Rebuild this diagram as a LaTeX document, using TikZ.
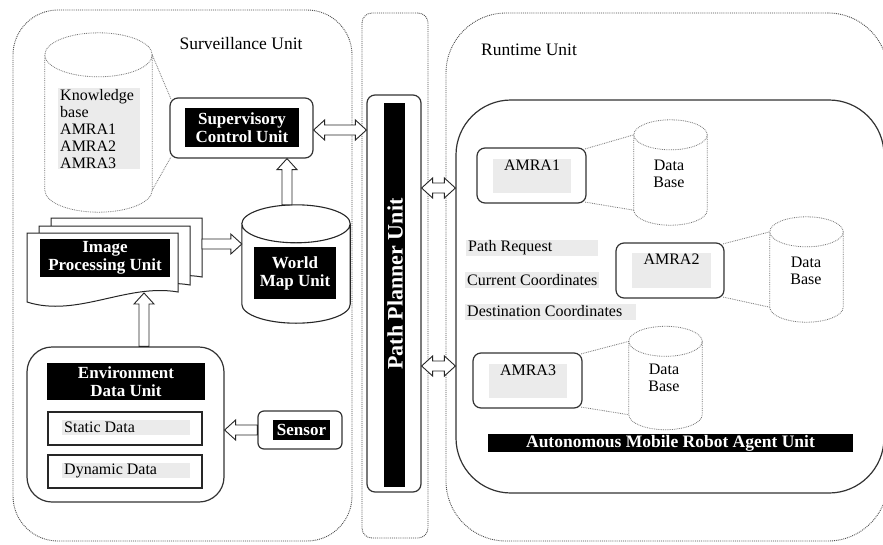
\documentclass[tikz,border=0pt]{standalone}
\usepackage{fontspec}
\setmainfont{Liberation Serif}
\usetikzlibrary{calc}
\newcommand\asw{5pt}
\newcommand\ahw{10pt}
\newcommand\ahl{11pt}
% cylinder drawn around a placeholder node: #1 node, #2 ellipse y-radius, #3 style
\newcommand\drawcyl[3]{%
  \path[#3] let \p1=(#1.north west), \p2=(#1.south east), \p3=(#1.center) in
    (\x1,{\y1-#2}) -- (\x1,{\y2+#2})
    arc[start angle=180, end angle=360, x radius={(\x2-\x1)/2}, y radius=#2]
    -- (\x2,{\y1-#2})
    (\x3,{\y1-#2}) ellipse[x radius={(\x2-\x1)/2}, y radius=#2];}
% single hollow horizontal arrow, head at #2, #3 = 1 (right) or -1 (left)
\newcommand\hollowH[3]{%
  \path[hollow] let \p1=#1, \p2=#2 in
    (\x1,{\y1+\asw}) -- ({\x2-(#3)*\ahl},{\y1+\asw}) -- ({\x2-(#3)*\ahl},{\y1+\ahw})
    -- (\x2,\y1) -- ({\x2-(#3)*\ahl},{\y1-\ahw}) -- ({\x2-(#3)*\ahl},{\y1-\asw})
    -- (\x1,{\y1-\asw}) -- cycle;}
% single hollow upward arrow from #1 (x, bottom) to #2 (top y)
\newcommand\hollowV[2]{%
  \path[hollow] let \p1=#1, \p2=#2 in
    ({\x1-\asw},\y1) -- ({\x1-\asw},{\y2-\ahl}) -- ({\x1-\ahw},{\y2-\ahl})
    -- (\x1,\y2) -- ({\x1+\ahw},{\y2-\ahl}) -- ({\x1+\asw},{\y2-\ahl})
    -- ({\x1+\asw},\y1) -- cycle;}
% double-headed hollow horizontal arrow
\newcommand\hollowD[2]{%
  \path[hollow] let \p1=#1, \p2=#2 in
    (\x1,\y1) -- ({\x1+\ahl},{\y1+\ahw}) -- ({\x1+\ahl},{\y1+\asw})
    -- ({\x2-\ahl},{\y1+\asw}) -- ({\x2-\ahl},{\y1+\ahw}) -- (\x2,\y1)
    -- ({\x2-\ahl},{\y1-\ahw}) -- ({\x2-\ahl},{\y1-\asw})
    -- ({\x1+\ahl},{\y1-\asw}) -- ({\x1+\ahl},{\y1-\ahw}) -- cycle;}
\begin{document}
\begin{tikzpicture}[x=1pt,y=-1pt, font=\fontsize{16}{17}\selectfont,
  outerbox/.style={draw=black!70, densely dotted, line width=0.9pt, rounded corners=#1},
  solidbox/.style={draw=black!80, line width=1.2pt, fill=white, rounded corners=#1},
  solidbox/.default=8pt,
  plainbox/.style={draw=black!85, line width=1.2pt, fill=white},
  blk/.style={fill=black, text=white, font=\bfseries\fontsize{17}{18}\selectfont, align=center, inner sep=0pt},
  grey/.style={fill=black!8, inner sep=0pt},
  msg/.style={fill=black!8, inner xsep=2pt, inner ysep=0pt, minimum height=16pt, anchor=west},
  ph/.style={inner sep=0pt},
  title/.style={font=\fontsize{17.5}{19}\selectfont},
  dbline/.style={draw=black!55, densely dotted, line width=0.8pt},
  hollow/.style={draw=black!85, fill=white, line width=0.9pt},
  docsh/.style={draw=black!85, line width=1pt, fill=white}
]
\useasboundingbox[fill=white] (0,0) rectangle (883,544);

% ---------- containers ----------
\node[outerbox=45pt, minimum width=339pt, minimum height=531pt] (surv) at (182.5,275.5) {};
\node[title] (survt) at (241,44) {Surveillance Unit};
\node[outerbox=10pt, minimum width=66pt, minimum height=525pt] (ppo) at (395,275.5) {};
\node[outerbox=60pt, minimum width=442pt, minimum height=528pt] (rt) at (667,277) {};
\node[title] (rtt) at (529,50) {Runtime Unit};

% ---------- knowledge base ----------
\node[ph, minimum width=107pt, minimum height=179pt] (kb) at (98.5,122.5) {};
\drawcyl{kb}{22pt}{dbline}
\node[grey, text width=78pt, align=left, inner xsep=2pt, inner ysep=1pt, anchor=north west] (kbt) at (58,88) {Knowledge\\base\\AMRA1\\AMRA2\\AMRA3};

% ---------- supervisory ----------
\node[solidbox, minimum width=143pt, minimum height=60pt] (sup) at (241.5,128) {};
\node[blk, minimum width=114pt, minimum height=39pt] (supt) at (242,127.5) {Supervisory\\Control Unit};
\draw[dbline] ($(kb.north east)+(0,22)$) -- ($(sup.north west)+(1.5,1.5)$);
\draw[dbline] ($(kb.south east)+(0,-22)$) -- ($(sup.south west)+(1.5,-1.5)$);

% ---------- path planner ----------
\node[solidbox, minimum width=54pt, minimum height=397pt] (pp) at (394,293.5) {};
\node[blk, minimum width=21pt, minimum height=384pt] (ppbar) at (394,295) {};
\node[rotate=90, text=white, inner sep=0pt, font=\bfseries\fontsize{22}{23}\selectfont] (ppt) at (395,284) {Path Planner Unit};

% ---------- image processing ----------
\foreach \dx/\dy in {24/-15, 12/-7, 0/0}
  \draw[docsh, shift={(27+\dx,233+\dy)}] (0,0) -- (151,0) -- (151,59)
     .. controls (100,50) and (50,85) .. (0,69) -- cycle;
\node[ph, minimum width=151pt, minimum height=70pt] (ip) at (102.5,267) {};
\node[blk, minimum width=130pt, minimum height=38pt] (ipt) at (105,258) {Image\\Processing Unit};
\coordinate (ipR) at (202,244);
\coordinate (ipB) at (144,293);

% ---------- world map ----------
\node[ph, minimum width=108pt, minimum height=118pt] (wm) at (296,264) {};
\drawcyl{wm}{19pt}{draw=black!85, line width=1.1pt, fill=white}
\node[blk, minimum width=82pt, minimum height=52pt] (wmt) at (295,273) {World\\Map Unit};

% ---------- environment ----------
\node[solidbox=25pt, minimum width=197pt, minimum height=155pt] (env) at (125.5,424.5) {};
\node[blk, minimum width=158pt, minimum height=37pt] (envt) at (126,381.5) {Environment\\Data Unit};
\node[plainbox, minimum width=154pt, minimum height=33pt] (stat) at (125,428.5) {};
\node[msg, minimum height=15pt] (statt) at (62,427.5) {\makebox[124pt][l]{Static Data}};
\node[plainbox, minimum width=154pt, minimum height=33pt] (dyn) at (125,471.5) {};
\node[msg, minimum height=15pt] (dynt) at (62,470.5) {\makebox[124pt][l]{Dynamic Data}};

% ---------- sensor ----------
\node[solidbox=6pt, minimum width=84pt, minimum height=38pt] (sen) at (300,430) {};
\node[blk, minimum width=57pt, minimum height=20pt] (sent) at (301.5,430) {Sensor};

% ---------- runtime / agent unit ----------
\node[solidbox=55pt, minimum width=428pt, minimum height=393pt] (ag) at (670,296.5) {};
\node[blk, minimum width=365pt, minimum height=18pt, font=\bfseries\fontsize{17.5}{18}\selectfont] (agt) at (670.5,443) {Autonomous Mobile Robot Agent Unit};

% AMRA1
\node[ph, minimum width=73pt, minimum height=105pt] (db1) at (670.5,172.5) {};
\drawcyl{db1}{15pt}{dbline}
\node[align=center] (db1t) at (669,174) {Data\\Base};
\node[solidbox, minimum width=109pt, minimum height=55pt] (a1) at (531.5,175.5) {};
\node[grey, minimum width=78pt, minimum height=34pt] (a1g) at (532,176) {};
\node[anchor=north, inner sep=1pt] (a1t) at (a1g.north) {AMRA1};
\draw[dbline] ($(a1.north east)+(-1.5,1.5)$) -- ($(db1.north west)+(0,15)$);
\draw[dbline] ($(a1.south east)+(-1.5,-1.5)$) -- ($(db1.south west)+(0,-15)$);

% AMRA2
\node[ph, minimum width=73pt, minimum height=105pt] (db2) at (806.5,269.5) {};
\drawcyl{db2}{15pt}{dbline}
\node[align=center] (db2t) at (806,271) {Data\\Base};
\node[solidbox, minimum width=108pt, minimum height=55pt] (a2) at (670,270.5) {};
\node[grey, minimum width=79pt, minimum height=35pt] (a2g) at (671.5,270.5) {};
\node[anchor=north, inner sep=1pt] (a2t) at (a2g.north) {AMRA2};
\draw[dbline] ($(a2.north east)+(-1.5,1.5)$) -- ($(db2.north west)+(0,15)$);
\draw[dbline] ($(a2.south east)+(-1.5,-1.5)$) -- ($(db2.south west)+(0,-15)$);

% AMRA3
\node[ph, minimum width=73pt, minimum height=103pt] (db3) at (665.5,378) {};
\drawcyl{db3}{15pt}{dbline}
\node[align=center] (db3t) at (664,378) {Data\\Base};
\node[solidbox, minimum width=109pt, minimum height=55pt] (a3) at (527.5,380.5) {};
\node[grey, minimum width=78pt, minimum height=34pt] (a3g) at (528,381) {};
\node[anchor=north, inner sep=1pt] (a3t) at (a3g.north) {AMRA3};
\draw[dbline] ($(a3.north east)+(-1.5,1.5)$) -- ($(db3.north west)+(0,15)$);
\draw[dbline] ($(a3.south east)+(-1.5,-1.5)$) -- ($(db3.south west)+(0,-15)$);

% message labels
\node[msg] (preq) at (466,247.5) {\makebox[128pt][l]{Path Request}};
\node[msg] (cur) at (465,280) {\makebox[130pt][l]{Current Coordinates}};
\node[msg] (dest) at (465,311.5) {\makebox[167pt][l]{Destination Coordinates}};

% ---------- hollow arrows ----------
\hollowD{($(sup.east)+(0,2)$)}{($(pp.west)+(0,-163.5)$)}
\hollowD{($(pp.east)+(0,-105.5)$)}{($(ag.west)+(0,-108.5)$)}
\hollowD{($(pp.east)+(0,72.5)$)}{($(ag.west)+(0,69.5)$)}
\hollowV{($(wm.north)+(-9,0)$)}{($(sup.south)+(45.5,0)$)}
\hollowH{(ipR)}{(wm.west |- ipR)}{1}
\hollowV{(env.north -| ipB)}{(ipB)}
\hollowH{(sen.west)}{(env.east |- sen.west)}{-1}
\end{tikzpicture}
\end{document}
